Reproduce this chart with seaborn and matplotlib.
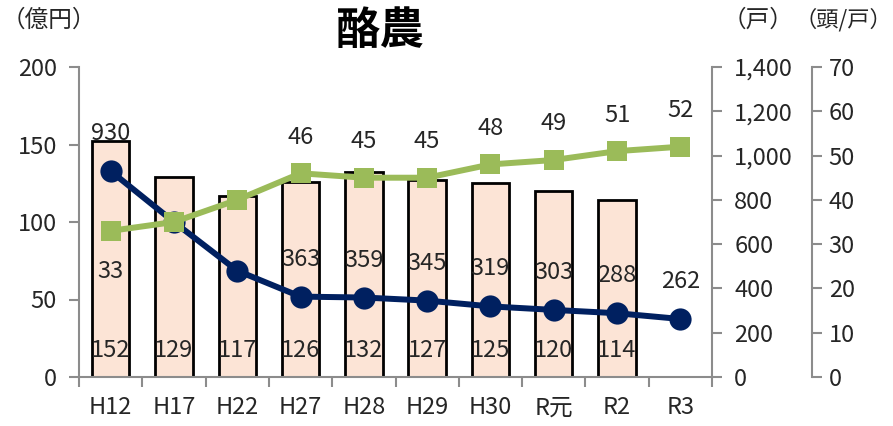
import numpy as np
import pandas as pd
import matplotlib
matplotlib.use("Agg")
import matplotlib.pyplot as plt
import seaborn as sns

# 年次
years = ["H12", "H17", "H22", "H27", "H28", "H29", "H30", "R元", "R2", "R3"]
# 産出額（億円）
output_oku = [152, 129, 117, 126, 132, 127, 125, 120, 114, np.nan]
# 飼養戸数（戸）
farms = [930, 700, 480, 363, 359, 345, 319, 303, 288, 262]
# 1戸当たり飼養頭数（頭/戸）
heads_per_farm = [33, 35, 40, 46, 45, 45, 48, 49, 51, 52]
# 値ラベルを表示する年次
show_label = [True, False, False, True, True, True, True, True, True, True]

sns.set_theme(style="white")
plt.rcParams["font.family"] = ["Noto Sans CJK JP", "DejaVu Sans"]

TXT = "#262626"
AXC = "#8c8c8c"
BAR_FILL = "#FCE4D6"
NAVY = "#002060"
GREEN = "#9BBB59"
FS = 17

fig = plt.figure(figsize=(8.93, 4.26), dpi=100)
ax = fig.add_axes([79 / 893, 1 - 377 / 426, (712 - 79) / 893, (377 - 67) / 426])

df = pd.DataFrame({"year": years, "output": output_oku})
sns.barplot(data=df, x="year", y="output", ax=ax, color=BAR_FILL,
            edgecolor="black", linewidth=2, width=0.59, saturation=1)
ax.set_ylim(0, 200)
ax.set_xlim(-0.5, len(years) - 0.5)
ax.set_yticks([0, 50, 100, 150, 200])
ax.set_xlabel("")
ax.set_ylabel("")
for s in ["top", "right"]:
    ax.spines[s].set_visible(False)
for s in ["left", "bottom"]:
    ax.spines[s].set_color(AXC)
    ax.spines[s].set_linewidth(1.5)
ax.tick_params(axis="y", direction="out", length=7, width=1.5, color=AXC,
               labelsize=FS, labelcolor=TXT, pad=9, left=True)
ax.tick_params(axis="x", which="major", length=0, labelsize=FS,
               labelcolor=TXT, pad=14)
ax.set_xticks(np.arange(-0.5, len(years), 1.0), minor=True)
ax.tick_params(axis="x", which="minor", direction="out", length=7,
               width=1.5, color=AXC, bottom=True)

# 産出額ラベル（棒の下部）
for i, v in enumerate(output_oku):
    if not np.isnan(v):
        ax.text(i, 17, f"{v:.0f}", ha="center", va="center",
                fontsize=FS, color=TXT)

# 飼養戸数（第2軸）
ax2 = ax.twinx()
xpos = np.arange(len(years))
sns.lineplot(x=xpos, y=farms, ax=ax2, color=NAVY, linewidth=4.3,
             marker="o", markersize=16, markeredgewidth=0, zorder=3)
ax2.set_ylim(0, 1400)
ax2.set_yticks(range(0, 1401, 200))
ax2.set_yticklabels([f"{v:,}" for v in range(0, 1401, 200)])
for s in ["top", "left", "bottom"]:
    ax2.spines[s].set_visible(False)
ax2.spines["right"].set_color(AXC)
ax2.spines["right"].set_linewidth(1.5)
ax2.tick_params(axis="y", direction="out", length=7, width=1.5, color=AXC,
                labelsize=FS, labelcolor=TXT, pad=9, right=True)
for i, v in enumerate(farms):
    if show_label[i]:
        ax2.annotate(f"{v}", (i, v), xytext=(0, 27), textcoords="offset points",
                     ha="center", va="center", fontsize=FS, color=TXT)

# 1戸当たり飼養頭数（第3軸）
ax3 = ax.twinx()
ax3.spines["right"].set_position(("axes", (812 - 79) / (712 - 79)))
sns.lineplot(x=xpos, y=heads_per_farm, ax=ax3, color=GREEN, linewidth=4.3,
             marker="s", markersize=15, markeredgewidth=0, zorder=4)
ax3.set_ylim(0, 70)
ax3.set_yticks(range(0, 71, 10))
for s in ["top", "left", "bottom"]:
    ax3.spines[s].set_visible(False)
ax3.spines["right"].set_color(AXC)
ax3.spines["right"].set_linewidth(1.5)
ax3.tick_params(axis="y", direction="out", length=7, width=1.5, color=AXC,
                labelsize=FS, labelcolor=TXT, pad=5, right=True)
for i, v in enumerate(heads_per_farm):
    if show_label[i]:
        dy = -29 if i == 0 else 26
        ax3.annotate(f"{v}", (i, v), xytext=(0, dy), textcoords="offset points",
                     ha="center", va="center", fontsize=FS, color=TXT)
ax3.set_xlim(-0.5, len(years) - 0.5)
ax2.set_xlim(-0.5, len(years) - 0.5)
for a in (ax2, ax3):
    a.set_ylabel("")

fig.text(380 / 893, 1 - 31 / 426, "酪農", ha="center", va="center",
         fontsize=32, fontweight="bold", color="black")
fig.text(2 / 893, 1 - 20 / 426, "（億円）", ha="left", va="center",
         fontsize=17, color=TXT)
fig.text(758 / 893, 1 - 20 / 426, "（戸）", ha="center", va="center",
         fontsize=17, color=TXT)
fig.text(892 / 893, 1 - 20 / 426, "（頭/戸）", ha="right", va="center",
         fontsize=16, color=TXT)

fig.savefig("out.png", dpi=100)
